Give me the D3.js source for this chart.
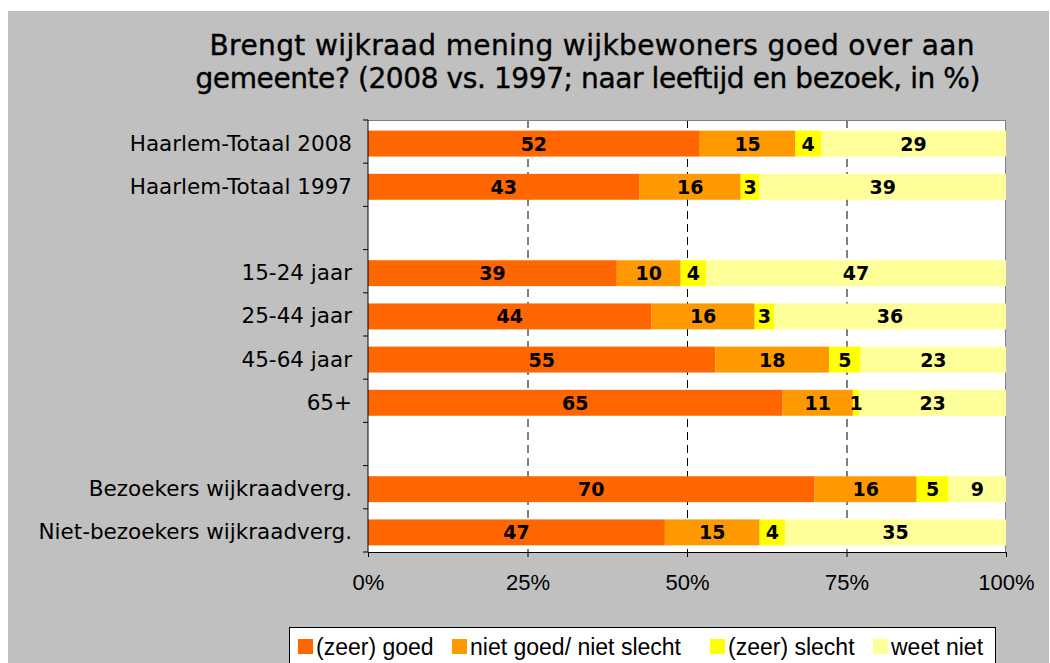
<!DOCTYPE html>
<html>
<head>
<meta charset="utf-8">
<script src="https://cdn.jsdelivr.net/npm/d3@7"></script>
<style>
  body { margin: 0; background: #fff; }
</style>
</head>
<body>
<svg id="chart"></svg>
<script>
// categories, empty strings are spacer rows
var categories = ['Haarlem-Totaal 2008', 'Haarlem-Totaal 1997', '', '15-24 jaar ', '25-44 jaar', '45-64 jaar', '65+', ' ', 'Bezoekers wijkraadverg.', 'Niet-bezoekers wijkraadverg.'];
var seriesNames = ['(zeer) goed', 'niet goed/ niet slecht', '(zeer) slecht', 'weet niet'];
var zeerGoed   = [52, 43, null, 39, 44, 55, 65, null, 70, 47];
var nietGoed   = [15, 16, null, 10, 16, 18, 11, null, 16, 15];
var zeerSlecht = [4, 3, null, 4, 3, 5, 1, null, 5, 4];
var weetNiet   = [29, 39, null, 47, 36, 23, 23, null, 9, 35];
var tickValues = [0, 0.25, 0.5, 0.75, 1];
var colors = ['#ff6600', '#ff9900', '#ffff00', '#ffff99'];

var W = 1050, H = 663;
var svg = d3.select('#chart').attr('width', W).attr('height', H);

svg.append('rect').attr('x', 8).attr('y', 11).attr('width', 1041).attr('height', H - 11).attr('fill', '#c0c0c0');

// title
var title = svg.append('text')
    .attr('text-anchor', 'middle')
    .style('font-family', 'DejaVu Sans')
    .style('font-size', '28px')
    .style('stroke', '#000').style('stroke-width', 0.4)
    .attr('fill', '#000');
title.append('tspan').attr('x', 592).attr('y', 55).attr('textLength', 765).text('Brengt wijkraad mening wijkbewoners goed over aan');
title.append('tspan').attr('x', 588).attr('y', 88).attr('textLength', 785).text('gemeente? (2008 vs. 1997; naar leeftijd en bezoek, in %)');

var plotL = 368, plotR = 1006, plotT = 120, plotB = 552;

var x = d3.scaleLinear().domain([0, 1]).range([plotL, plotR]);
var y = d3.scaleBand().domain(d3.range(categories.length)).range([plotT + 2, plotB + 2]).paddingInner(0.4).paddingOuter(0.2);

svg.append('rect').attr('x', plotL).attr('y', plotT).attr('width', plotR - plotL).attr('height', plotB - plotT).attr('fill', '#fff');

// gridlines
svg.append('g').selectAll('line')
    .data(tickValues.slice(1, 4))
    .join('line')
    .attr('x1', d => x(d) + 0.5).attr('x2', d => x(d) + 0.5)
    .attr('y1', plotT).attr('y2', plotB)
    .attr('stroke', '#000').attr('stroke-width', 1)
    .attr('stroke-dasharray', '8,5');

svg.append('line').attr('x1', plotL).attr('x2', plotR).attr('y1', plotT + 0.5).attr('y2', plotT + 0.5).attr('stroke', '#808080');
svg.append('line').attr('x1', plotR - 0.5).attr('x2', plotR - 0.5).attr('y1', plotT).attr('y2', plotB).attr('stroke', '#808080');

// stacked data (100% stacked, normalised per row)
var rows = categories.map(function(c, i) {
    return { idx: i, vals: [zeerGoed[i], nietGoed[i], zeerSlecht[i], weetNiet[i]] };
}).filter(d => d.vals[0] != null);

var segs = [];
rows.forEach(function(r) {
    var total = d3.sum(r.vals), acc = 0;
    r.vals.forEach(function(v, k) {
        segs.push({ idx: r.idx, k: k, v: v, x0: acc / total, x1: (acc + v) / total });
        acc += v;
    });
});

svg.append('g').selectAll('rect')
    .data(segs)
    .join('rect')
    .attr('x', d => x(d.x0))
    .attr('y', d => y(d.idx))
    .attr('width', d => x(d.x1) - x(d.x0))
    .attr('height', y.bandwidth())
    .attr('fill', d => colors[d.k]);

svg.append('g').selectAll('text')
    .data(segs)
    .join('text')
    .attr('x', d => (x(d.x0) + x(d.x1)) / 2)
    .attr('y', d => y(d.idx) + y.bandwidth() / 2 + 7)
    .attr('text-anchor', 'middle')
    .style('font-family', 'DejaVu Sans')
    .style('font-weight', 'bold')
    .style('font-size', '19px')
    .text(d => d.v);

// axes
var xAxis = svg.append('g').attr('transform', 'translate(0,' + plotB + ')')
    .call(d3.axisBottom(x).tickValues(tickValues).tickFormat(d3.format('.0%')).tickSize(5).tickPadding(17));
xAxis.select('.domain').attr('stroke', '#000');
xAxis.selectAll('text').style('font-family', 'Liberation Sans').style('font-size', '22px').attr('fill', '#000');

var yAx = d3.scaleLinear().domain([0, categories.length]).range([plotT, plotB]);
var yAxis = svg.append('g').attr('transform', 'translate(' + plotL + ',0)');
yAxis.append('line').attr('x1', 0).attr('x2', 0).attr('y1', plotT).attr('y2', plotB).attr('stroke', '#000');
yAxis.selectAll('line.tk').data(d3.range(categories.length + 1)).join('line').attr('class', 'tk')
    .attr('x1', -5).attr('x2', 0).attr('y1', d => yAx(d)).attr('y2', d => yAx(d)).attr('stroke', '#000');
yAxis.selectAll('text').data(categories).join('text')
    .attr('x', -16)
    .attr('y', (d, i) => y(i) + y.bandwidth() / 2 + 7)
    .attr('text-anchor', 'end')
    .style('font-family', 'DejaVu Sans')
    .style('font-size', '21.5px')
    .text(d => d);

// legend
var legend = svg.append('g');
legend.append('rect').attr('x', 289.5).attr('y', 627.5).attr('width', 706).attr('height', 50).attr('fill', '#fff').attr('stroke', '#000');
var legendX = [298, 452, 710, 873];
var item = legend.selectAll('g.item').data(seriesNames).join('g').attr('class', 'item')
    .attr('transform', (d, i) => 'translate(' + legendX[i] + ',639)');
item.append('rect').attr('width', 15).attr('height', 15).attr('fill', (d, i) => colors[i]);
item.append('text').attr('x', 18).attr('y', 16)
    .style('font-family', 'Liberation Sans').style('font-size', '23px')
    .text(d => d);
</script>
</body>
</html>
